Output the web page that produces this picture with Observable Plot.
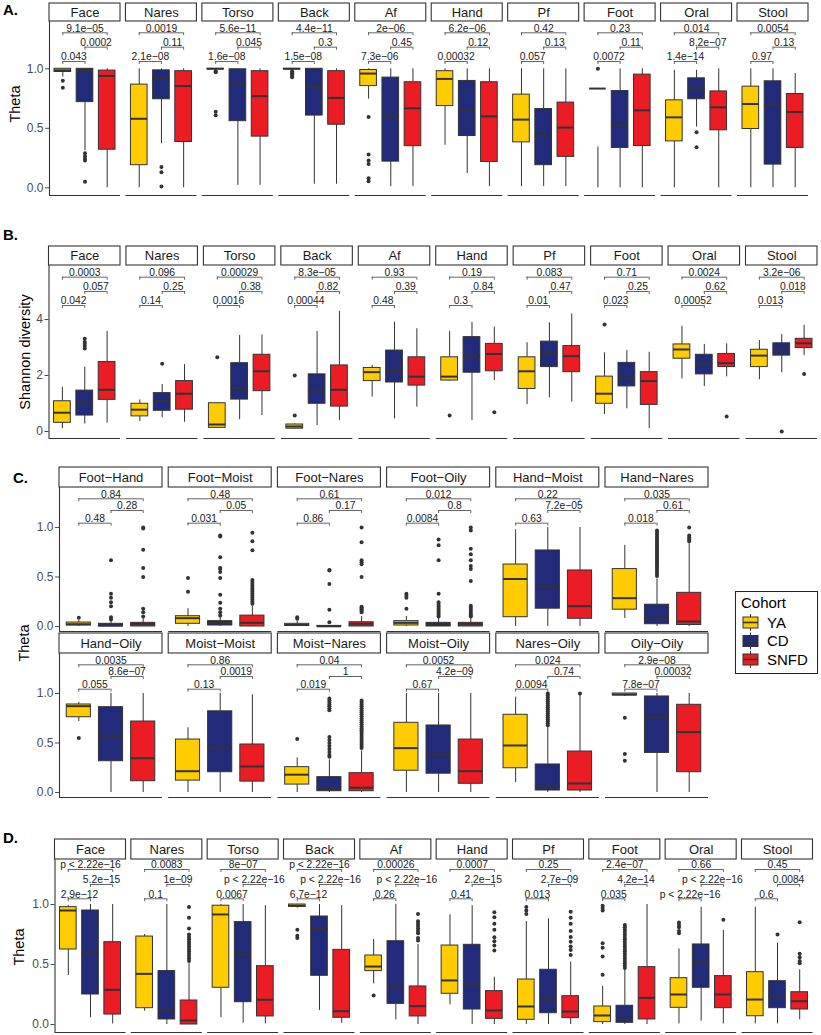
<!DOCTYPE html>
<html><head><meta charset="utf-8">
<script src="https://cdn.jsdelivr.net/npm/d3@7"></script>
<script src="https://cdn.jsdelivr.net/npm/@observablehq/plot@0.6"></script>
<style>
body{margin:0;background:#fff;}
#wrap{position:relative;width:821px;height:1035px;overflow:hidden;background:#fff;}
</style></head><body><div id="wrap"></div>
<script>
const cohorts = ["YA","CD","SNFD"];
const cohortColors = ["#FFCC00","#222A7A","#EC1C24"];

// ---------- Panel A: Theta by site ----------
const aSites = ["Face","Nares","Torso","Back","Af","Hand","Pf","Foot","Oral","Stool"];
const aQ1 = [[.973,.72,.32],[.19,.744,.385],[.996,.56,.43],[.995,.607,.53],[.855,.22,.35],[.687,.435,.217],[.382,.19,.26],[.834,.335,.351],[.39,.744,.483],[.494,.195,.335]];
const aMed = [[.987,.99,.94],[.58,.915,.855],[1.0,.875,.77],[1.0,.847,.755],[.96,.598,.668],[.915,.649,.60],[.573,.444,.506],[.834,.531,.651],[.592,.836,.676],[.704,.696,.637]];
const aQ3 = [[1.0,1.0,.985],[.867,.987,.98],[1.0,.996,.98],[1.0,1.0,.98],[.99,.926,.887],[.98,.898,.887],[.783,.662,.716],[.834,.813,.951],[.735,.92,.81],[.85,.895,.788]];
const aLo = [[.93,.31,0],[0,.37,0],[.99,.02,.02],[.99,.03,.03],[.745,.01,.01],[.357,.12,.01],[.01,.01,.01],[.834,0,0],[0,.51,0],[0,0,0]];
const aHi = [[1,1,1],[1,1,1],[1,1,1],[1,1,1],[1,1,1],[1,1,1],[1,1,1],[.834,1,1],[.987,.987,1],[1,1,.96]];
const aOut = [
 [[.90,.84],[.29,.265,.245,.23,.05],[]],
 [[],[.175,.13,.01],[]],
 [[.98,.97,.64,.61],[],[]],
 [[.98,.97,.96,.95,.94,.93],[],[]],
 [[.595,.28,.23,.20,.08,.055],[],[]],
 [[],[],[]],
 [[],[],[]],
 [[1.0],[],[]],
 [[],[.466,.34],[]],
 [[],[],[]]
];
const aDetachedWhisker = [["Foot","YA",0.343,0]];
const aP = [["9.1e-05","0.0002","0.043"],["0.0019","0.11","2.1e-08"],["5.6e-11","0.045","1.6e-08"],["4.4e-11","0.3","1.5e-08"],["2e-06","0.45","7.3e-06"],["6.2e-06","0.12","0.00032"],["0.42","0.13","0.057"],["0.23","0.11","0.0072"],["0.014","8.2e-07","1.4e-14"],["0.0054","0.13","0.97"]];

// ---------- Panel B: Shannon diversity ----------
const bSites = aSites;
const bQ1 = [[.31,.57,1.13],[.54,.74,.78],[.13,1.14,1.44],[.1,.99,.89],[1.8,1.75,1.64],[1.82,2.1,2.15],[1.52,2.3,2.12],[.99,1.61,.95],[2.6,2.04,2.3],[2.3,2.71,2.98]];
const bMed = [[.67,1.01,1.49],[.78,1.09,1.35],[.25,1.55,2.15],[.18,1.46,1.49],[2.12,2.18,1.96],[1.96,2.69,2.77],[2.15,2.8,2.69],[1.35,1.88,1.8],[2.93,2.42,2.44],[2.71,2.86,3.15]];
const bQ3 = [[1.08,1.46,2.48],[.99,1.37,1.8],[1.01,2.44,2.74],[.25,2.04,2.36],[2.27,2.89,2.65],[2.65,3.37,3.13],[2.65,3.21,3.05],[1.96,2.45,2.12],[3.11,2.74,2.77],[2.92,3.15,3.31]];
const bLo = [[.1,.27,.3],[.36,.49,.33],[.1,.42,.57],[.08,.21,.39],[1.23,.45,.87],[1.8,.39,1.82],[.96,1.2,1.05],[.61,.81,.1],[1.88,1.61,1.95],[1.85,2.1,2.71]];
const bHi = [[1.58,2.3,3.58],[1.13,1.68,2.39],[1.01,3.43,3.45],[.27,3.57,4.29],[2.36,3.9,3.67],[3.58,3.9,3.73],[3.17,3.88,4.2],[2.81,2.89,2.83],[3.76,3.11,3.13],[3.25,3.46,3.79]];
const bOut = [
 [[],[3.31,3.2,3.13,3.05,2.96],[]],
 [[],[2.42],[]],
 [[2.65],[],[]],
 [[2.0,.57],[],[]],
 [[],[],[]],
 [[.57],[],[.69]],
 [[],[],[]],
 [[3.82],[],[]],
 [[],[],[.54]],
 [[],[0.0],[2.05]]
];
const bP = [["0.0003","0.057","0.042"],["0.096","0.25","0.14"],["0.00029","0.38","0.0016"],["8.3e-05","0.82","0.00044"],["0.93","0.39","0.48"],["0.19","0.84","0.3"],["0.083","0.47","0.01"],["0.71","0.25","0.023"],["0.0024","0.62","0.00052"],["3.2e-06","0.018","0.013"]];

// ---------- Panel C: Theta between site pairs ----------
const cSites = ["Foot-Hand","Foot-Moist","Foot-Nares","Foot-Oily","Hand-Moist","Hand-Nares","Hand-Oily","Moist-Moist","Moist-Nares","Moist-Oily","Nares-Oily","Oily-Oily"];
const cQ1 = [[.01,0,0],[.027,.01,0],[.005,0,0],[.01,0,0],[.094,.18,.078],[.17,.023,.015],[.76,.316,.114],[.12,.205,.11],[.08,.013,.013],[.22,.19,.088],[.245,.02,.02],[.98,.40,.205]];
const cMed = [[.023,.01,.026],[.084,.037,.037],[.015,.002,.027],[.037,.015,.026],[.48,.40,.205],[.286,.078,.05],[.872,.573,.346],[.215,.455,.263],[.18,.048,.048],[.448,.38,.215],[.475,.064,.091],[.99,.76,.61]];
const cQ3 = [[.04,.027,.037],[.104,.054,.11],[.027,.006,.043],[.054,.037,.037],[.626,.768,.566],[.58,.22,.34],[.889,.862,.717],[.535,.82,.485],[.256,.155,.195],[.704,.677,.535],[.785,.283,.414],[1.0,.97,.886]];
const cLo = [[0,0,0],[0,0,0],[0,0,0],[0,0,0],[0,0,0],[.08,0,0],[.717,0,0],[0,0,0],[0,0,0],[0,0,0],[.1,0,0],[.97,0,0]];
const cHi = [[.06,.06,.08],[.18,.1,.205],[.05,.01,.1],[.1,.09,.09],[.977,1,1],[.82,.48,.84],[.91,1,1],[.654,1,.987],[.35,.33,.42],[1,1,1],[.963,.67,.98],[1,1,1]];
const cOut = [
 [[.088],[.67,.33,.29,.245,.205,.094,.07],[1.0,.99,.775,.59,.5,.18,.145,.1]],
 [[.49,.35],[.92,.91,.70,.59,.58,.55,.49,.32,.24,.18,.145,.11],[.946,.86,.77,.47,.45,.43,.41,.39,.37,.35,.33,.31,.29,.27,.25,.23]],
 [[.094,.078],[.57,.565,.43,.17,.043],[1.0,.85,.67,.65,.63,.5,.2,.19,.18,.17,.16,.145]],
 [[.33,.31,.29,.18],[.88,.82,.67,.33,.245,.22,.2,.18,.16,.14,.12,.1],[1.0,.97,.785,.73,.67,.61,.58,.46,.21,.19,.17,.15,.13,.11,.1]],
 [[],[],[]],
 [[],[.97,.95,.93,.91,.89,.87,.85,.83,.81,.79,.77,.75,.73,.71,.69,.67,.65,.63,.61,.59,.57,.55,.53,.51],[1.0,.92,.9,.88,.86]],
 [[.55],[],[]],
 [[],[],[]],
 [[.54],[.95,.93,.91,.89,.87,.85,.83,.56,.53,.5,.47,.44,.41,.38,.36],[.93,.91,.89,.87,.85,.83,.81,.79,.77,.75,.73,.71,.69,.67,.65,.63,.61,.59,.57,.55,.53,.51,.49,.47,.45]],
 [[],[],[]],
 [[],[1.0,.98,.96,.94,.92,.9,.88,.86,.84,.82,.8,.78,.76,.74,.72,.7,.68],[1.0]],
 [[.755,.39,.32],[],[]]
];
const cP = [["0.84","0.28","0.48"],["0.48","0.05","0.031"],["0.61","0.17","0.86"],["0.012","0.8","0.0084"],["0.22","7.2e-05","0.63"],["0.035","0.61","0.018"],["0.0035","8.6e-07","0.055"],["0.86","0.0019","0.13"],["0.04","1","0.019"],["0.0052","4.2e-09","0.67"],["0.024","0.74","0.0094"],["2.9e-08","0.00032","7.8e-07"]];

// ---------- Panel D: Theta by site ----------
const dSites = aSites;
const dQ1 = [[.625,.25,.083],[.136,.042,0],[.306,.186,.067],[.98,.406,.056],[.445,.172,.067],[.256,.125,.047],[.039,.094,.053],[.02,.014,.042],[.139,.306,.136],[.069,.136,.125]];
const dMed = [[.95,.594,.289],[.422,.122,.033],[.917,.58,.206],[.99,.80,.111],[.483,.317,.153],[.367,.333,.117],[.15,.219,.108],[.075,.047,.222],[.25,.514,.25],[.208,.233,.194]];
const dQ3 = [[.978,.95,.686],[.733,.445,.2],[.99,.853,.486],[1.0,.90,.622],[.575,.694,.317],[.658,.664,.278],[.375,.456,.236],[.15,.156,.478],[.386,.667,.403],[.436,.361,.269]];
const dLo = [[.408,.056,.005],[.111,0,0],[.056,.011,.005],[.97,.117,.01],[.339,.039,0],[.164,0,0],[0,0,0],[0,0,0],[.005,.028,.005],[.005,.005,.039]];
const dHi = [[.99,1,1],[.75,1,.506],[1,1,.99],[1,1,.99],[.708,1,.667],[.914,.99,.394],[.858,.881,.52],[.317,.45,1],[.63,.978,.783],[.978,.678,.456]];
const dOut = [
 [[],[],[]],
 [[],[],[.98,.89,.80,.75,.73,.71,.69,.67,.65,.63,.61,.59,.57,.55,.53]],
 [[],[],[]],
 [[.79,.74,.72],[],[]],
 [[.242],[],[.92,.86,.84,.82,.80,.78,.76,.72,.70]],
 [[],[],[.936,.894,.839,.789,.728,.694,.658,.617]],
 [[.98,.95,.92],[],[.94,.89,.84,.78,.73,.69,.65,.62,.58]],
 [[.99,.97,.95,.678,.64,.567,.414],[.83,.81,.79,.77,.75,.73,.71,.69,.67,.65,.63,.61,.59,.57,.55,.53,.51,.49,.47],[]],
 [[.85,.83,.81,.78,.76],[],[.872]],
 [[],[.75],[.853,.589,.56,.53,.51]]
];
const dP = [["p < 2.22e-16","5.2e-15","2.9e-12"],["0.0083","1e-09","0.1"],["8e-07","p < 2.22e-16","0.0067"],["p < 2.22e-16","p < 2.22e-16","6.7e-12"],["0.00026","p < 2.22e-16","0.26"],["0.0007","2.2e-15","0.41"],["0.25","2.7e-09","0.013"],["2.4e-07","4.2e-14","0.035"],["0.66","p < 2.22e-16","p < 2.22e-16"],["0.45","0.0084","0.6"]];

// ---------- drawing ----------
const FONT = "'Liberation Sans', Arial, Helvetica, sans-serif";
const wrap = document.getElementById("wrap");
const pairs = [[1,3],[2,3],[1,2]];
const mm = s => s.replace(/-/g, "\u2212");

function drawPanel(p) {
  const pv = px => (p.y0 - px) / p.k;
  const n = p.sites.length;
  const W = p.right - p.left;
  const gap = (W - n * p.w) / (W - p.w);
  const boxes = [], outs = [], brackets = [];
  p.sites.forEach((s, si) => cohorts.forEach((c, ci) => {
    boxes.push({site: s, cohort: c, xi: ci + 1, q1: p.q1[si][ci], med: p.med[si][ci], q3: p.q3[si][ci], lo: p.lo[si][ci], hi: p.hi[si][ci]});
    p.out[si][ci].forEach(v => outs.push({site: s, cohort: c, xi: ci + 1, v}));
  }));
  p.sites.forEach((s, si) => pairs.forEach(([a, b], li) => brackets.push({
    site: s, a, b,
    y: pv(p.stripBottom + p.levels[li]),
    yt: pv(p.stripBottom + p.levels[li] + 3),
    label: mm(p.pvals[si][li])
  })));
  const segs = (p.segs || []).filter(d => p.sites.includes(d[0])).map(([s, c, f, t]) => ({site: s, xi: cohorts.indexOf(c) + 1, from: f, to: t}));
  const sY1 = pv(p.stripTop), sY2 = pv(p.stripBottom), sMid = pv((p.stripTop + p.stripBottom) / 2);
  const yBot = pv(p.panelBottom);
  const hw = 0.375;
  const svg = Plot.plot({
    width: 821, height: p.height,
    marginLeft: p.left, marginRight: 821 - p.right,
    marginTop: p.stripBottom - p.top, marginBottom: p.top + p.height - p.panelBottom,
    style: {fontFamily: FONT, fontSize: "12px", color: "#4d4d4d", background: "transparent", overflow: "visible", maxWidth: "none"},
    fx: {domain: p.sites, axis: null, paddingInner: gap, paddingOuter: 0, round: false},
    x: {domain: [0.4, 3.6], axis: null},
    y: {domain: [yBot, sY2], ticks: p.ticks, tickFormat: d3.format(p.fmt), tickSize: 4, tickPadding: 2, label: null},
    color: {domain: cohorts, range: cohortColors},
    marks: [
      Plot.ruleY([yBot], {stroke: "#333", strokeWidth: 1.1}),
      Plot.ruleX([p.sites[0]], {fx: d => d, x: () => 0.4, stroke: "#333", strokeWidth: 1.1}),
      Plot.rect(p.sites, {fx: d => d, x1: () => 0.4, x2: () => 3.6, y1: () => sY1, y2: () => sY2, fill: "white", stroke: "#333", strokeWidth: 1.1}),
      Plot.text(p.sites, {fx: d => d, x: () => 2, y: () => sMid, text: d => mm(d), fontSize: p.stripFont, fill: "#1a1a1a"}),
      Plot.ruleX(boxes, {fx: "site", x: "xi", y1: "q3", y2: "hi", stroke: "#333"}),
      Plot.ruleX(boxes, {fx: "site", x: "xi", y1: "q1", y2: "lo", stroke: "#333"}),
      Plot.ruleX(segs, {fx: "site", x: "xi", y1: "from", y2: "to", stroke: "#333"}),
      Plot.rect(boxes, {fx: "site", x1: d => d.xi - hw, x2: d => d.xi + hw, y1: "q1", y2: "q3", fill: "cohort", stroke: "#333", strokeWidth: 1}),
      Plot.ruleY(boxes, {fx: "site", x1: d => d.xi - hw, x2: d => d.xi + hw, y: "med", stroke: "#333", strokeWidth: 2}),
      Plot.dot(outs, {fx: "site", x: "xi", y: "v", r: 2, fill: "#333"}),
      Plot.ruleY(brackets, {fx: "site", x1: "a", x2: "b", y: "y", stroke: "#555", strokeWidth: 0.9}),
      Plot.ruleX(brackets, {fx: "site", x: "a", y1: "y", y2: "yt", stroke: "#555", strokeWidth: 0.9}),
      Plot.ruleX(brackets, {fx: "site", x: "b", y1: "y", y2: "yt", stroke: "#555", strokeWidth: 0.9}),
      Plot.text(brackets, {fx: "site", x: d => (d.a + d.b) / 2, y: "y", text: "label", lineAnchor: "bottom", dy: -1.3, fontSize: 10.3, fill: "#1a1a1a"})
    ]
  });
  svg.style.position = "absolute";
  svg.style.top = p.top + "px";
  svg.style.left = "0px";
  wrap.appendChild(svg);
}

const sliceC = (arr, a, b) => arr.slice(a, b);

drawPanel({sites: aSites, q1: aQ1, med: aMed, q3: aQ3, lo: aLo, hi: aHi, out: aOut, pvals: aP, segs: aDetachedWhisker,
  top: 0, height: 200, left: 49, right: 808, w: 71, stripTop: 3, stripBottom: 21, panelBottom: 195,
  y0: 187.3, k: 119, ticks: [0, 0.5, 1], fmt: ".1f", levels: [11.3, 25.7, 40], stripFont: 13});

drawPanel({sites: bSites, q1: bQ1, med: bMed, q3: bQ3, lo: bLo, hi: bHi, out: bOut, pvals: bP,
  top: 240, height: 205, left: 48.5, right: 817, w: 71.5, stripTop: 246, stripBottom: 265, panelBottom: 438,
  y0: 431, k: 28, ticks: [0, 2, 4], fmt: "d", levels: [11.7, 26, 40], stripFont: 13});

drawPanel({sites: sliceC(cSites,0,6), q1: sliceC(cQ1,0,6), med: sliceC(cMed,0,6), q3: sliceC(cQ3,0,6), lo: sliceC(cLo,0,6), hi: sliceC(cHi,0,6), out: sliceC(cOut,0,6), pvals: sliceC(cP,0,6),
  top: 460, height: 177, left: 59, right: 708, w: 103, stripTop: 467, stripBottom: 487, panelBottom: 631,
  y0: 626, k: 99, ticks: [0, 0.5, 1], fmt: ".1f", levels: [11.3, 23, 35.7], stripFont: 13});

drawPanel({sites: sliceC(cSites,6,12), q1: sliceC(cQ1,6,12), med: sliceC(cMed,6,12), q3: sliceC(cQ3,6,12), lo: sliceC(cLo,6,12), hi: sliceC(cHi,6,12), out: sliceC(cOut,6,12), pvals: sliceC(cP,6,12),
  top: 626, height: 177, left: 59, right: 708, w: 103, stripTop: 633, stripBottom: 653, panelBottom: 797,
  y0: 792, k: 99, ticks: [0, 0.5, 1], fmt: ".1f", levels: [11.3, 23, 35.7], stripFont: 13});

drawPanel({sites: dSites, q1: dQ1, med: dMed, q3: dQ3, lo: dLo, hi: dHi, out: dOut, pvals: dP,
  top: 834, height: 201, left: 54.5, right: 812.5, w: 71, stripTop: 839, stripBottom: 859, panelBottom: 1032,
  y0: 1024, k: 120, ticks: [0, 0.5, 1], fmt: ".1f", levels: [10, 25, 39.3], stripFont: 13});

// ---------- overlay: panel letters, axis titles, legend ----------
const ov = d3.select(wrap).append("svg")
  .attr("width", 821).attr("height", 1035)
  .style("position", "absolute").style("left", "0px").style("top", "0px")
  .style("pointer-events", "none").style("font-family", FONT);

const letters = [["A.", 3, 15], ["B.", 3, 240], ["C.", 13, 483], ["D.", 3, 843]];
ov.selectAll("text.letter").data(letters).join("text").attr("class", "letter")
  .attr("x", d => d[1]).attr("y", d => d[2]).attr("font-size", 15).attr("font-weight", "bold").attr("fill", "#000")
  .text(d => d[0]);

const titles = [["Theta", 15, 104], ["Shannon diversity", 25, 352], ["Theta", 24, 643], ["Theta", 19, 947]];
ov.selectAll("text.atitle").data(titles).join("text").attr("class", "atitle")
  .attr("transform", d => `translate(${d[1]},${d[2]}) rotate(-90)`)
  .attr("text-anchor", "middle").attr("dy", "0.35em").attr("font-size", 14.5).attr("fill", "#000")
  .text(d => d[0]);

const lg = ov.append("g");
lg.append("rect").attr("x", 735.5).attr("y", 591.5).attr("width", 82).attr("height", 82)
  .attr("fill", "white").attr("stroke", "#222").attr("stroke-width", 1);
lg.append("text").attr("x", 741).attr("y", 608).attr("font-size", 15).attr("fill", "#000").text("Cohort");
const keyY = [622.5, 641, 659.5];
cohorts.forEach((c, i) => {
  const cy = keyY[i];
  lg.append("line").attr("x1", 750.5).attr("x2", 750.5).attr("y1", cy - 8.5).attr("y2", cy + 8.5).attr("stroke", "#333");
  lg.append("rect").attr("x", 743).attr("y", cy - 5.5).attr("width", 15).attr("height", 11)
    .attr("fill", cohortColors[i]).attr("stroke", "#333");
  lg.append("line").attr("x1", 743).attr("x2", 758).attr("y1", cy).attr("y2", cy).attr("stroke", "#333").attr("stroke-width", 1.6);
  lg.append("text").attr("x", 767).attr("y", cy + 5.4).attr("font-size", 15).attr("fill", "#000").text(c);
});
</script>
</body></html>
